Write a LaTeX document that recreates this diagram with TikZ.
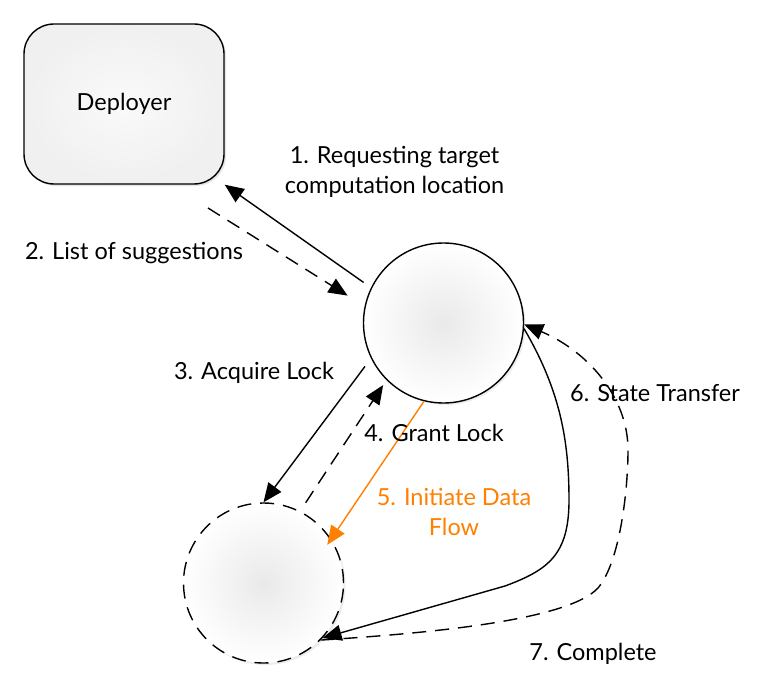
\documentclass[tikz,border=0pt]{standalone}
\usepackage{fontspec}
\setmainfont{Lato}
\usetikzlibrary{arrows.meta,shadows}
\definecolor{flow}{RGB}{255,128,0}
\begin{document}
\begin{tikzpicture}[x=1pt,y=-1pt,
  box/.style={draw,line width=1.4pt,rounded corners=30pt,minimum width=200pt,minimum height=160pt,
    inner color=gray!4,outer color=gray!12,drop shadow={opacity=0.2,shadow xshift=2pt,shadow yshift=-2pt}},
  site/.style={circle,draw,line width=1.4pt,minimum size=160pt,inner color=gray!17,outer color=white,
    drop shadow={opacity=0.15,shadow xshift=2pt,shadow yshift=-2pt}},
  txt/.style={font=\fontsize{23.5}{30}\selectfont,align=center},
  arr/.style={-{Triangle[length=19pt,width=16pt]},line width=1.4pt},
  dashline/.style={dash pattern=on 14pt off 9pt}]
\useasboundingbox (0,0) rectangle (770,690);

\draw (124,104) node[box,txt] (deployer) {Deployer};
\draw (443.5,323) node[site] (top) {};
\draw (263.5,583) node[site,dashline] (bot) {};

\coordinate (s2) at (208,208);

\draw[arr] (top.154) [shorten <=9pt] -- (deployer.south east);
\draw[arr,dashline] (s2) [shorten >=20pt] -- (top.168);
\draw[arr] (top.206) [shorten <=10pt] -- (bot.north);
\draw[arr,dashline] (bot.63) [shorten <=10pt,shorten >=6pt] -- (top.225);
\draw[arr,flow] (top.256) [shorten >=-7pt] -- (bot.33.5);
\draw[arr] (top.-4) .. controls (560,390) and (569,440) .. (569,500)
  .. controls (569,555) and (548,570) .. (505,586) -- (bot.-43);
\draw[arr,dashline] (bot.-45) .. controls (450,632) and (570,618) .. (598,588)
  .. controls (620,562) and (628,490) .. (628,450)
  .. controls (628,395) and (585,350) .. (top.-1);

\draw (394.5,172) node[txt] (l1) {1. Requesting target\\computation location};
\draw (134,253) node[txt] (l2) {2. List of suggestions};
\draw (254,373) node[txt] (l3) {3. Acquire Lock};
\draw (434,433) node[txt] (l4) {4. Grant Lock};
\draw (454,512) node[txt,text=flow] (l5) {5. Initiate Data\\Flow};
\draw (655,393) node[txt] (l6) {6. State Transfer};
\draw (593,654) node[txt] (l7) {7. Complete};
\end{tikzpicture}
\end{document}
